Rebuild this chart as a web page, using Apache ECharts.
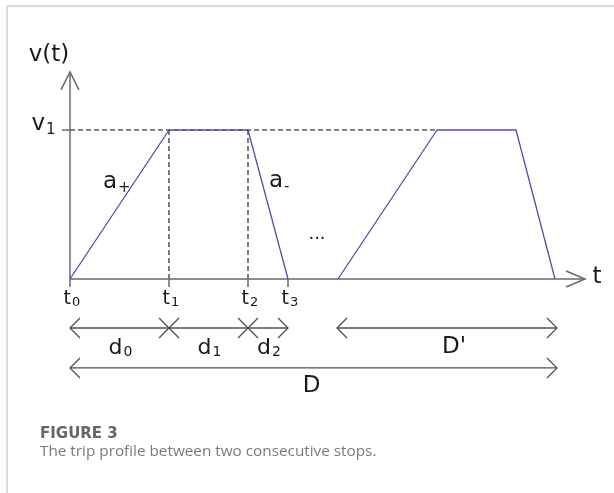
<!DOCTYPE html>
<html><head><meta charset="utf-8">
<script src="https://cdn.jsdelivr.net/npm/echarts@6/dist/echarts.min.js"></script>
<style>html,body{margin:0;padding:0;background:#fff}#c{width:614px;height:493px}</style>
</head><body><div id="c"></div>
<script>
// ---- data (time units along t, speed in units of v1) ----
const profile1 = [[0, 0], [99, 1], [178, 1], [218, 0]];
const profile2 = [[268, 0], [367, 1], [446, 1], [485, 0]];
const tTicks = [0, 99, 178, 218];
const tTickSubs = ['0', '1', '2', '3'];
const v1Level = 1;
const dBounds = [0, 99, 178, 218];
const dSubs = ['0', '1', '2'];
const dPrimeSpan = [267, 487];
const dTotalSpan = [0, 487];
const tAxisEnd = 515;
const vAxisEnd = 1.39;
const dashEnd = 367;

const BLUE = '#5050a8', AXIS = '#6a6a6a', DIM = '#505050', TXT = '#1a1a1a';
const FONT = '"DejaVu Sans"';

function drawDiagram(params, api) {
  const c = (x, y) => api.coord([x, y]);
  const kids = [];
  const ln = (a, b, st) => kids.push({type: 'line', shape: {x1: a[0], y1: a[1], x2: b[0], y2: b[1]},
    style: Object.assign({stroke: AXIS, lineWidth: 1.5}, st || {})});
  const poly = (pts, st) => kids.push({type: 'polyline', shape: {points: pts},
    style: Object.assign({stroke: AXIS, fill: null, lineWidth: 1.5}, st || {})});
  const txt = (s, x, y, size, o) => kids.push({type: 'text', style: Object.assign({text: s, x: x, y: y,
    fill: TXT, font: size + 'px ' + FONT, align: 'center', verticalAlign: 'middle'}, o || {})});
  const subTxt = (b, s, x, y, size, ss, dy) => {
    txt(b, x, y, size, {align: 'right'});
    txt(s, x + 1, y + dy, ss, {align: 'left'});
  };
  const dimSt = {stroke: DIM, lineWidth: 1.3};
  const arrowL = p => poly([[p[0] + 10, p[1] - 10], p, [p[0] + 10, p[1] + 10]], dimSt);
  const arrowR = p => poly([[p[0] - 10, p[1] - 10], p, [p[0] - 10, p[1] + 10]], dimSt);
  const cross = p => { ln([p[0] - 10, p[1] - 10], [p[0] + 10, p[1] + 10], dimSt); ln([p[0] - 10, p[1] + 10], [p[0] + 10, p[1] - 10], dimSt); };

  const O = c(0, 0), Y = c(0, vAxisEnd), X = c(tAxisEnd, 0);
  // dashed guides
  const V = c(0, v1Level);
  const dash = {stroke: '#111', lineWidth: 1.1, lineDash: [5, 3]};
  ln(V, c(dashEnd, v1Level), dash);
  ln(c(tTicks[1], v1Level), c(tTicks[1], 0), dash);
  ln(c(tTicks[2], v1Level), c(tTicks[2], 0), dash);
  // axes
  ln(O, Y); ln(O, X);
  poly([[Y[0] - 9, Y[1] + 18], Y, [Y[0] + 9, Y[1] + 18]]);
  poly([[X[0] - 19, X[1] - 8], X, [X[0] - 19, X[1] + 8]]);
  txt('v(t)', Y[0] - 21, Y[1] - 17, 23);
  txt('t', X[0] + 12, X[1] - 2, 23);
  // v1 tick & label
  ln([V[0] - 8, V[1]], V);
  subTxt('v', '1', V[0] - 25, V[1] - 6, 23, 15, 6);
  // t ticks
  tTicks.forEach((t, i) => {
    const p = c(t, 0);
    ln(p, [p[0], p[1] + 8]);
    subTxt('t', tTickSubs[i], p[0] + 1, p[1] + 20, 19, 13, 4);
  });
  // acceleration labels
  const A1 = c(profile1[1][0], profile1[1][1]);
  subTxt('a', '+', A1[0] - 52, A1[1] + 52, 23, 15, 6);
  const A2 = c(profile1[2][0], profile1[2][1]);
  subTxt('a', '-', A2[0] + 35, A2[1] + 51, 23, 15, 6);
  // dots between trips
  const M = c((profile1[3][0] + profile2[0][0]) / 2, 0);
  txt('...', M[0] + 4, M[1] - 45, 18);
  // d row
  const rowD = -0.329, rowT = -0.597;
  const d0 = c(dBounds[0], rowD), d3 = c(dBounds[dBounds.length - 1], rowD);
  ln(d0, d3, dimSt); arrowL(d0); arrowR(d3);
  for (let i = 1; i < dBounds.length - 1; i++) cross(c(dBounds[i], rowD));
  for (let i = 0; i < dSubs.length; i++) {
    const a = c(dBounds[i], rowD), b = c(dBounds[i + 1], rowD);
    subTxt('d', dSubs[i], (a[0] + b[0]) / 2 + 3, a[1] + 20, 22, 14, 4);
  }
  // D' row
  const p1 = c(dPrimeSpan[0], rowD), p2 = c(dPrimeSpan[1], rowD);
  ln(p1, p2, dimSt); arrowL(p1); arrowR(p2);
  txt("D'", (p1[0] + p2[0]) / 2 + 7, p1[1] + 19, 23);
  // D row
  const q1 = c(dTotalSpan[0], rowT), q2 = c(dTotalSpan[1], rowT);
  ln(q1, q2, dimSt); arrowL(q1); arrowR(q2);
  txt('D', (q1[0] + q2[0]) / 2 - 2, q1[1] + 18, 23);
  return {type: 'group', children: kids};
}

const chart = echarts.init(document.getElementById('c'));
chart.setOption({
  animation: false,
  grid: {left: 70, top: 70.4, width: 515, height: 357.6},
  xAxis: {type: 'value', min: 0, max: tAxisEnd, show: false},
  yAxis: {type: 'value', min: -1, max: 1.4, show: false},
  graphic: [
    {type: 'line', shape: {x1: 7, y1: 6, x2: 614, y2: 6}, style: {stroke: '#dcdcdc', lineWidth: 2}},
    {type: 'line', shape: {x1: 7, y1: 6, x2: 7, y2: 493}, style: {stroke: '#dcdcdc', lineWidth: 2}},
    {type: 'text', left: 40, top: 427, style: {text: 'FIGURE 3', fill: '#666', font: 'bold 15px "DejaVu Sans"'}},
    {type: 'text', left: 40, top: 444, style: {text: 'The trip profile between two consecutive stops.', fill: '#7a7a7a', font: '15.3px "Open Sans"'}}
  ],
  series: [
    {type: 'custom', data: [[0, 0]], renderItem: drawDiagram, silent: true, z: 1},
    {type: 'line', data: profile1, symbol: 'none', silent: true, z: 3, lineStyle: {color: BLUE, width: 1.3}},
    {type: 'line', data: profile2, symbol: 'none', silent: true, z: 3, lineStyle: {color: BLUE, width: 1.3}}
  ]
});
</script></body></html>
